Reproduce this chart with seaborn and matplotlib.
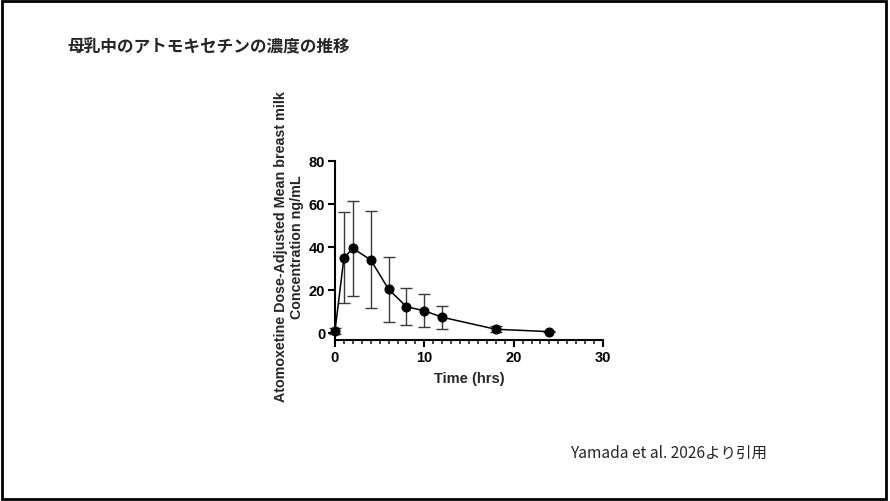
import numpy as np
import pandas as pd
import seaborn as sns
import matplotlib.pyplot as plt
from matplotlib.patches import Rectangle
from matplotlib.ticker import MultipleLocator

# Data (mean +/- SD)
time_hrs = [0, 1, 2, 4, 6, 8, 10, 12, 18, 24]
mean_conc = [0.9, 35.0, 39.3, 34.0, 20.3, 12.2, 10.3, 7.3, 1.7, 0.6]
sd_conc = [1.4, 21.2, 22.1, 22.6, 15.2, 8.7, 7.7, 5.3, 1.5, 0.3]

title_text = "母乳中のアトモキセチンの濃度の推移"
source_text = "Yamada et al. 2026より引用"
x_label = "Time (hrs)"
y_label = "Atomoxetine Dose-Adjusted Mean breast milk\nConcentration ng/mL"

df = pd.DataFrame({"time": time_hrs, "conc": mean_conc, "sd": sd_conc})

sns.set_style("ticks")
plt.rcParams["font.family"] = ["Liberation Sans", "Noto Sans CJK JP", "DejaVu Sans"]

fig = plt.figure(figsize=(8.9, 5.02), dpi=100)
ax = fig.add_axes([0.3764, 0.3207, 0.3011, 0.3566])

# error bars
ax.errorbar(df["time"], df["conc"], yerr=df["sd"], fmt="none",
            ecolor="#3a3a3a", elinewidth=1.0, capsize=4, capthick=1.0,
            clip_on=False, zorder=2)

# mean line with markers
sns.lineplot(data=df, x="time", y="conc", ax=ax, color="black",
             linewidth=1.1, marker="o", markersize=6.5,
             markeredgecolor="black", clip_on=False, zorder=3)

ax.set_xlim(0, 30)
ax.set_ylim(-3.3, 80)
ax.set_xticks([0, 10, 20, 30])
ax.xaxis.set_minor_locator(MultipleLocator(1))
ax.set_yticks([0, 20, 40, 60, 80])

for side in ["top", "right"]:
    ax.spines[side].set_visible(False)
for side in ["left", "bottom"]:
    ax.spines[side].set_linewidth(1.5)
    ax.spines[side].set_color("black")

ax.tick_params(axis="both", which="major", length=5, width=1.5,
               labelsize=10.5, pad=2, colors="black")
ax.tick_params(axis="x", which="minor", length=3, width=1.2)
for lbl in ax.get_xticklabels() + ax.get_yticklabels():
    lbl.set_fontweight("bold")

ax.set_xlabel(x_label, fontsize=10.5, fontweight="bold", labelpad=5)
ax.set_ylabel(y_label, fontsize=10.3, fontweight="bold", linespacing=1.2)
ax.yaxis.set_label_coords(-0.115, 0.525)

fig.text(0.0764, 0.905, title_text, fontsize=12, fontweight="bold",
         family=["Noto Sans CJK JP", "DejaVu Sans"], ha="left", va="center")
fig.text(0.640, 0.097, source_text, fontsize=11.2,
         family=["Noto Sans CJK JP", "DejaVu Sans"], ha="left", va="center")

# slide border
fig.patches.append(Rectangle((0.002, 0.003), 0.994, 0.994,
                             transform=fig.transFigure, fill=False,
                             edgecolor="black", linewidth=2))

fig.savefig("out.png", dpi=100)
